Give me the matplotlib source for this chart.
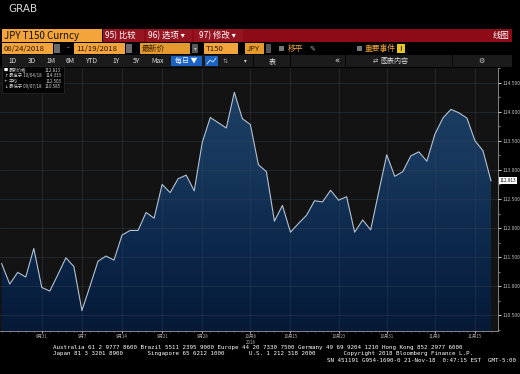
import numpy as np
import pandas as pd
import matplotlib
matplotlib.use('Agg')
from matplotlib import pyplot as plt
from matplotlib.patches import Rectangle, Polygon
from matplotlib.colors import LinearSegmentedColormap

plt.rcParams['font.family'] = ['Noto Sans CJK SC', 'DejaVu Sans']

# --- data ---
dates = pd.bdate_range('2018-08-24', '2018-11-19')  # 62 trading days
prices = [111.39, 111.04, 111.24, 111.16, 111.65, 110.98, 110.92, 111.20, 111.49, 111.34,
          110.585, 111.00, 111.43, 111.52, 111.45, 111.88, 111.96, 111.96, 112.27, 112.17,
          112.75, 112.61, 112.85, 112.91, 112.64, 113.47, 113.90, 113.81, 113.72, 114.333,
          113.88, 113.78, 113.09, 112.97, 112.12, 112.39, 111.93, 112.08, 112.22, 112.47,
          112.45, 112.65, 112.48, 112.54, 111.93, 112.14, 111.97, 112.62, 113.26, 112.89,
          112.97, 113.24, 113.31, 113.15, 113.61, 113.89, 114.04, 113.98, 113.89, 113.50,
          113.33, 112.813]
tick_dates = ['2018-08-31', '2018-09-07', '2018-09-14', '2018-09-21', '2018-09-28', '2018-10-08',
              '2018-10-15', '2018-10-23', '2018-10-31', '2018-11-08', '2018-11-15']
tick_labels = ['8月31', '9月7', '9月14', '9月21', '9月28', '10月8\n2018',
               '10月15', '10月23', '10月31', '11月8', '11月15']
y_ticks = [110.5, 111.0, 111.5, 112.0, 112.5, 113.0, 113.5, 114.0, 114.5]
ticker = 'JPY T150 Curncy'
footer1 = 'Australia 61 2 9777 8600 Brazil 5511 2395 9000 Europe 44 20 7330 7500 Germany 49 69 9204 1210 Hong Kong 852 2977 6000'
footer2 = 'Japan 81 3 3201 8900       Singapore 65 6212 1000       U.S. 1 212 318 2000        Copyright 2018 Bloomberg Finance L.P.'
footer3 = 'SN 451191 G954-1690-0 21-Nov-18  0:47:15 EST  GMT-5:00'

W, H = 520, 374
fig = plt.figure(figsize=(5.2, 3.74), dpi=100, facecolor='black')

# background axes in pixel coordinates for the terminal UI
bg = fig.add_axes([0, 0, 1, 1])
bg.set_xlim(0, W)
bg.set_ylim(H, 0)
bg.axis('off')


def box(ax_, x0, y0, x1, y1, color, **kw):
    ax_.add_patch(Rectangle((x0, y0), x1 - x0, y1 - y0, facecolor=color,
                            edgecolor=kw.pop('ec', 'none'), **kw))


ORANGE = '#f3a43a'
DARK_OR = '#e59a2e'
RED = '#8c0b16'

bg.text(8, 9, 'GRAB', fontsize=7.5, color='#d8d8d8', va='center', family='DejaVu Sans')

# row 1
box(bg, 2, 29, 102, 42, ORANGE)
bg.text(4, 35.5, ticker, fontsize=7, color='#111111', va='center')
box(bg, 103, 29, 512, 42, RED)
for x0, x1 in [(103, 144), (146, 192), (194, 243)]:
    box(bg, x0, 29, x1, 42, '#961420')
bg.text(105, 35.5, '95) 比较', fontsize=6, color='white', va='center')
bg.text(148, 35.5, '96) 选项 ▾', fontsize=6, color='white', va='center')
bg.text(199, 35.5, '97) 修改 ▾', fontsize=6, color='white', va='center')
bg.text(509, 35.5, '线图', fontsize=6, color='white', va='center', ha='right')

# row 2
box(bg, 2, 43, 53, 54, ORANGE)
bg.text(4, 48.5, '08/24/2018', fontsize=5.6, color='#2a1400', va='center')
box(bg, 54, 44, 60, 53, '#6a6a6a')
bg.text(67, 48.5, '-', fontsize=5.6, color='#dddddd', va='center')
box(bg, 74, 43, 125, 54, ORANGE)
bg.text(76, 48.5, '11/19/2018', fontsize=5.6, color='#2a1400', va='center')
box(bg, 126, 44, 132, 53, '#6a6a6a')
box(bg, 140, 43, 190, 54, DARK_OR)
bg.text(142, 48.5, '最新价', fontsize=5.6, color='#3a2000', va='center')
box(bg, 192, 44, 198, 53, '#555555')
bg.text(195, 48.5, '▾', fontsize=4, color='#bbbbbb', va='center', ha='center')
box(bg, 204, 43, 238, 54, ORANGE)
bg.text(206, 48.5, 'T150', fontsize=5.6, color='#2a1400', va='center')
box(bg, 245, 43, 264, 54, DARK_OR)
bg.text(247, 48.5, 'JPY', fontsize=5.6, color='#3a2000', va='center')
box(bg, 266, 44, 271, 53, '#555555')
box(bg, 279, 46, 284, 51, '#777777')
bg.text(288, 48.5, '移平', fontsize=5.6, color=ORANGE, va='center')
bg.text(309, 48.5, '✎', fontsize=5, color='#aaaaaa', va='center', family='DejaVu Sans')
box(bg, 357, 46, 362, 51, '#777777')
bg.text(365, 48.5, '重要事件', fontsize=5.6, color=ORANGE, va='center')
box(bg, 397, 44, 405, 53, '#e8c820')
bg.text(401, 48.5, '!', fontsize=5, color='#222222', va='center', ha='center', fontweight='bold')

# row 3
box(bg, 2, 55, 512, 67, '#1b1b1b')
for xs in [253, 290, 345, 452]:
    box(bg, xs, 55, xs + 1, 67, '#070707')
for lab, xc in [('1D', 13), ('3D', 32), ('1M', 51), ('6M', 70), ('YTD', 92),
                ('1Y', 116), ('5Y', 136), ('Max', 158)]:
    bg.text(xc, 61, lab, fontsize=4.8, color='#e0e0e0', va='center', ha='center')
box(bg, 171, 56, 202, 66, '#1a62c4')
bg.text(186, 61, '每日 ▼', fontsize=5, color='white', va='center', ha='center')
box(bg, 205, 56, 218, 66, '#1a62c4')
bg.plot([207, 210, 213, 216], [64, 60, 62, 58], color='white', lw=0.5)
bg.text(225, 61, '⇅', fontsize=4.5, color='#999999', va='center', ha='center', family='DejaVu Sans')
bg.text(245, 61, '▾', fontsize=4, color='#cccccc', va='center', ha='center')
bg.text(272, 61, '表', fontsize=5, color='#e0e0e0', va='center', ha='center')
bg.text(337, 61, '«', fontsize=6, color='#e0e0e0', va='center', ha='center', family='DejaVu Sans')
bg.text(375, 61, '⇄', fontsize=4.5, color='#cccccc', va='center', ha='center', family='DejaVu Sans')
bg.text(380, 61, '图表内容', fontsize=5, color='#e0e0e0', va='center')
bg.text(481, 61, '⚙', fontsize=5, color='#cccccc', va='center', ha='center', family='DejaVu Sans')

# footer
for txt, x, y, ha in [(footer1, 53, 347, 'left'), (footer2, 53, 353.5, 'left'),
                      (footer3, 516, 360.5, 'right')]:
    bg.text(x, y, txt, fontsize=4.2, color='white', va='center', ha=ha, family='DejaVu Sans Mono')

# --- price chart ---
x = np.arange(len(prices))
px_per_day = (491 - 1.7) / (len(prices) - 1)
xlo = -1.7 / px_per_day
xhi = xlo + 498 / px_per_day
ylo = 114 - (331 - 105) / 60
yhi = 114 + (105 - 68) / 60

ax = fig.add_axes([0, (H - 331) / H, 498 / W, 263 / H])
ax.set_facecolor('#131313')
ax.set_xlim(xlo, xhi)
ax.set_ylim(ylo, yhi)

verts = [(x[0], ylo)] + list(zip(x, prices)) + [(x[-1], ylo)]
poly = Polygon(verts, closed=True, facecolor='none', edgecolor='none')
ax.add_patch(poly)
cmap = LinearSegmentedColormap.from_list('bbg', ['#061937', '#0c284b', '#17385c', '#1d3f63'])
grad = np.linspace(0, 1, 256).reshape(-1, 1)
im = ax.imshow(grad, extent=[xlo, xhi, ylo, yhi], origin='lower', aspect='auto',
               cmap=cmap, zorder=1)
im.set_clip_path(poly)
ax.plot(x, prices, color='#b2c2d2', lw=0.8, zorder=3)

ax.set_axisbelow(False)
ax.grid(True, color='#3a4654', lw=0.45, alpha=0.6, zorder=2)

tick_pos = dates.get_indexer(pd.to_datetime(tick_dates))
ax.set_xticks(tick_pos)
ax.set_xticklabels(tick_labels)
ax.set_xticks(x, minor=True)
ax.tick_params(axis='x', which='major', labelsize=3.2, colors='#b0b0b0', length=1.5, pad=0.8)
ax.tick_params(axis='x', which='minor', colors='#888888', length=1)
for lab in ax.get_xticklabels():
    lab.set_linespacing(1.2)

ax.yaxis.tick_right()
ax.set_yticks(y_ticks)
ax.set_yticklabels([f'{v:.3f}' for v in y_ticks])
ax.set_yticks(np.arange(110.25, 114.76, 0.25), minor=True)
ax.tick_params(axis='y', which='major', labelsize=3.6, colors='#c0c0c0', length=2, pad=1.5)
ax.tick_params(axis='y', which='minor', colors='#999999', length=1.2)
for side in ['top', 'left']:
    ax.spines[side].set_visible(False)
ax.spines['right'].set_color('#9a9a9a')
ax.spines['right'].set_linewidth(0.6)
ax.spines['bottom'].set_color('#9a9a9a')
ax.spines['bottom'].set_linewidth(0.6)

last = prices[-1]
ax.text(1.003, last, f'{last:.3f}', transform=ax.get_yaxis_transform(), ha='left', va='center',
        fontsize=3.4, color='#111111', zorder=6, clip_on=False,
        bbox=dict(facecolor='white', edgecolor='none', pad=0.7))

# legend box overlay
ov = fig.add_axes([0, 0, 1, 1])
ov.set_xlim(0, W)
ov.set_ylim(H, 0)
ov.axis('off')
ov.patch.set_alpha(0)
box(ov, 2, 66, 64, 93, '#050505', ec='#2a2a2a', lw=0.5)
i_hi = int(np.argmax(prices))
i_lo = int(np.argmin(prices))
rows = [('■', '最新价格', last),
        ('↑', '最高于 ' + dates[i_hi].strftime('%m/%d/%y'), prices[i_hi]),
        ('+', '平均', float(np.mean(prices))),
        ('↓', '最低于 ' + dates[i_lo].strftime('%m/%d/%y'), prices[i_lo])]
for k, (mk, lab, val) in enumerate(rows):
    yy = 70 + k * 5.6
    ov.text(4, yy, mk, fontsize=3.2, color='white', va='center', family='DejaVu Sans')
    ov.text(9, yy, lab, fontsize=3.2, color='#cfcfcf', va='center')
    ov.text(61, yy, f'{val:.3f}', fontsize=3.2, color='#cfcfcf', va='center', ha='right')

fig.savefig('out.png', dpi=100, facecolor='black')
